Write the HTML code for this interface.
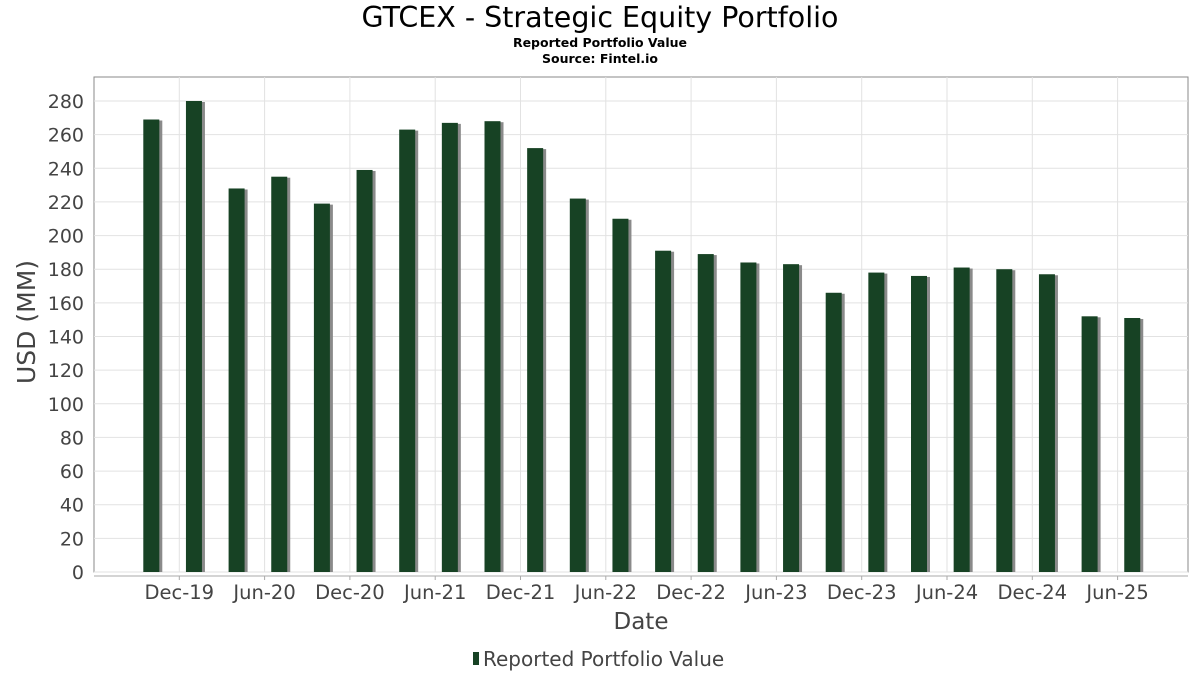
<!DOCTYPE html>
<html><head><meta charset="utf-8"><style>
body{margin:0;background:#fff;font-family:"DejaVu Sans","Liberation Sans",sans-serif;}
</style></head><body>
<svg id="c" width="1200" height="675" xmlns="http://www.w3.org/2000/svg">
<text x="600" y="27" text-anchor="middle" font-size="28.5" fill="#000">GTCEX - Strategic Equity Portfolio</text>
<text x="600" y="47" text-anchor="middle" font-size="12.5" font-weight="bold">Reported Portfolio Value</text>
<text x="600" y="63" text-anchor="middle" font-size="12.5" font-weight="bold">Source: Fintel.io</text>
<rect x="94" y="77" width="1094" height="495" fill="#fff" stroke="#888"/>
<g id="grid"></g><g id="bars"></g><g id="axes"></g>
<line x1="94" y1="576" x2="1188" y2="576" stroke="#aaa"/>
<text x="641" y="629" text-anchor="middle" font-size="23" fill="#444">Date</text>
<text transform="translate(35,322) rotate(-90)" text-anchor="middle" font-size="25" fill="#444">USD (MM)</text>
<g>
<rect x="473" y="652" width="6" height="13" fill="#174224"/>
<text x="483" y="666" font-size="20" fill="#444">Reported Portfolio Value</text>
</g>
</svg>
<script>
const values=[269,280,228,235,219,239,263,267,268,252,222,210,191,189,184,183,166,178,176,181,180,177,152,151];
const yTicks=[0,20,40,60,80,100,120,140,160,180,200,220,240,260,280];
const xLabels=["Dec-19","Jun-20","Dec-20","Jun-21","Dec-21","Jun-22","Dec-22","Jun-23","Dec-23","Jun-24","Dec-24","Jun-25"];
const NS="http://www.w3.org/2000/svg";
const y=v=>572-v*(471/280);
const bx=i=>143.3+i*42.65;
const tx=k=>179.3+k*85.3;
function mk(t,a,p){const e=document.createElementNS(NS,t);for(const k in a)e.setAttribute(k,a[k]);p.appendChild(e);return e;}
const g=document.getElementById('grid'),b=document.getElementById('bars'),ax=document.getElementById('axes');
yTicks.forEach(v=>{
 const l=mk('line',{x1:94,x2:1188,y1:y(v),y2:y(v),stroke:'#e2e2e2'},g);
 
 
 const t=mk('text',{x:84,y:y(v)+7,'text-anchor':'end','font-size':19,fill:'#444'},ax);
 t.textContent=v;
 
 
});
xLabels.forEach((s,k)=>{
 const l=mk('line',{x1:tx(k),x2:tx(k),y1:77,y2:572,stroke:'#e2e2e2'},g);
 
 
 const m=mk('line',{x1:tx(k),x2:tx(k),y1:576,y2:580,stroke:'#aaa'},ax);
 
 
 const t=mk('text',{x:tx(k),y:599,'text-anchor':'middle','font-size':19.5,fill:'#444'},ax);
 t.textContent=s;
 
 
});
values.forEach((v,i)=>{
 const s=mk('rect',{x:bx(i)+3,y:y(v)+1,width:16,height:572-y(v)-1,fill:'#8a8a8a'},b);
 
 
 const r=mk('rect',{x:bx(i),y:y(v),width:16,height:572-y(v),fill:'#174224'},b);
 
 
});
</script>
</body></html>
